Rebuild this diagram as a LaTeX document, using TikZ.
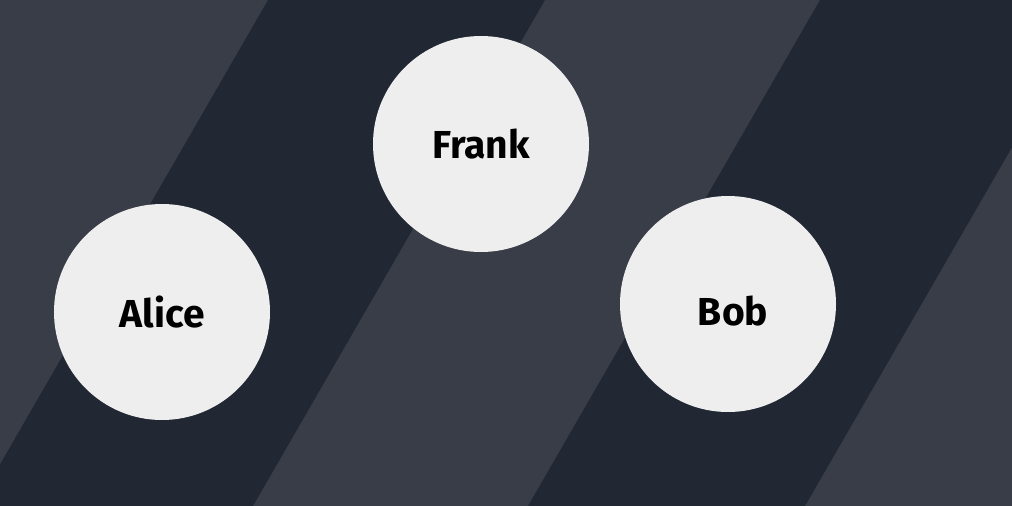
\documentclass[tikz,border=0pt]{standalone}
\usepackage{fontspec}
\setmainfont{Fira Sans}
\usetikzlibrary{positioning}
\definecolor{slate}{RGB}{57,61,71}
\definecolor{night}{RGB}{34,40,51}
\definecolor{chalk}{RGB}{238,238,238}
\tikzset{
  person/.style={circle,fill=chalk,minimum size=216pt,inner sep=0pt,
    font=\fontsize{39}{47}\selectfont\bfseries,text=black},
  band/.style={fill=night},
}

\begin{document}
\begin{tikzpicture}[x=1pt,y=-1pt]
        \useasboundingbox (0,0) rectangle (1012,506);
        \fill[slate] (0,0) rectangle (1012,506);
        \begin{scope}
          \clip (0,0) rectangle (1012,506);
          \foreach \x in {268,820}
            \fill[band] (\x,0) -- (\x+277,0) -- (\x-15,506) -- (\x-292,506) -- cycle;
        \end{scope}
        \node[person] (frank) at (481,144) {Frank};
        \node[person] (alice) at (162,312) {Alice};
        \node[person,label={[name=bobtext,font=\fontsize{39}{47}\selectfont\bfseries,
          xshift=5pt,yshift=-7pt]center:Bob}] (bob) at (728,304) {};
      \end{tikzpicture}
\end{document}
